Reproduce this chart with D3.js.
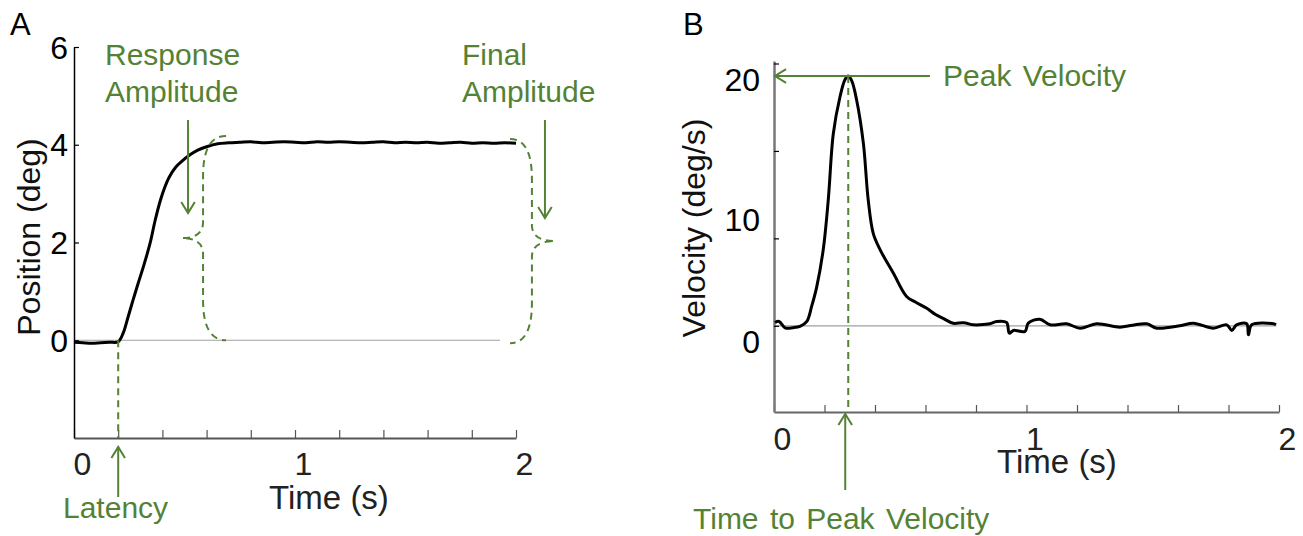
<!DOCTYPE html>
<html>
<head>
<meta charset="utf-8">
<script src="https://cdn.jsdelivr.net/npm/d3@7"></script>
<style>
body{margin:0;background:#fff}
svg text{font-family:"Liberation Sans",Arial,sans-serif}
</style>
</head>
<body>
<svg id="fig" width="1303" height="536"></svg>
<script>
// position trace (panel A)
var posTime = [0,0.04,0.08,0.12,0.16,0.2,0.222,0.245,0.267,0.29,0.313,0.344,0.367,0.39,0.41,0.43,0.46,0.49,0.52,0.56,0.6,0.65,0.7,0.75,0.8,0.85,0.9,0.95,1.0,1.05,1.1,1.15,1.2,1.25,1.3,1.35,1.4,1.45,1.5,1.55,1.6,1.65,1.7,1.75,1.8,1.85,1.9,1.95,2.0]
var posValue = [-0.04,-0.05,-0.06,-0.05,-0.04,-0.03,0.14,0.48,0.82,1.16,1.49,1.98,2.45,2.85,3.12,3.33,3.54,3.67,3.78,3.89,3.96,4.02,4.04,4.05,4.06,4.04,4.05,4.06,4.05,4.04,4.06,4.05,4.06,4.05,4.04,4.05,4.06,4.04,4.05,4.04,4.05,4.03,4.04,4.05,4.03,4.04,4.03,4.04,4.03]

// velocity trace (panel B)
var velTime = [0.004,0.02,0.044,0.075,0.103,0.13,0.149,0.169,0.195,0.215,0.235,0.261,0.281,0.294,0.308,0.327,0.354,0.373,0.393,0.42,0.473,0.525,0.56,0.605,0.64,0.67,0.71,0.75,0.79,0.816,0.855,0.882,0.921,0.932,0.948,0.994,1.007,1.053,1.093,1.159,1.212,1.278,1.37,1.42,1.476,1.516,1.608,1.661,1.74,1.793,1.813,1.832,1.872,1.879,1.892,1.978,1.988]
var velValue = [0.26,0.35,-0.16,-0.15,-0.05,0.35,1.55,3.1,6.1,10.1,15.4,18.3,19.7,20,19.6,18.1,14.6,10.1,7.4,6.1,4.2,2.35,1.9,1.4,0.9,0.6,0.2,0.25,0.08,0.08,0.16,0.35,0.27,-0.59,-0.37,-0.45,0.21,0.53,0.08,0.16,-0.19,0.16,-0.11,0.05,0.16,-0.19,0,0.21,-0.19,0.08,-0.37,0.08,0.16,-0.72,0.08,0.16,0.08]

var timeTicks = [0,0.2,0.4,0.6,0.8,1,1.2,1.4,1.6,1.8,2]
var timeLabels = [0,1,2]
var posTicks = [0,2,4,6]
var velTicks = [0,7,14,21]
var velLabelText = ["0","10","20"]
var velLabelValue = [-1.3,8.5,19.7]

var GREEN = "#548235"
var svg = d3.select("#fig")

var xA = d3.scaleLinear().domain([0,2]).range([74,516])
var yA = d3.scaleLinear().domain([-2,6]).range([438,47])
var xB = d3.scaleLinear().domain([0,2]).range([774,1279])
var yB = d3.scaleLinear().domain([-6.9,21.2]).range([412,61])

function arrow(g, x1, y1, x2, y2){
	var a = Math.atan2(y2-y1, x2-x1), L = 13, W = 0.55
	g.append("line").attr("x1",x1).attr("y1",y1).attr("x2",x2).attr("y2",y2)
		.attr("stroke",GREEN).attr("stroke-width",2)
	g.append("path")
		.attr("d","M"+(x2-L*Math.cos(a-W))+","+(y2-L*Math.sin(a-W))+"L"+x2+","+y2+"L"+(x2-L*Math.cos(a+W))+","+(y2-L*Math.sin(a+W)))
		.attr("fill","none").attr("stroke",GREEN).attr("stroke-width",2)
}

function brace(g, xEnd, xSpine, xTip, yTop, yBot){
	var yMid = (yTop+yBot)/2, h1 = 40, h2 = 16
	var d = "M"+xEnd+","+yTop+"Q"+xSpine+","+yTop+" "+xSpine+","+(yTop+h1)
		+"L"+xSpine+","+(yMid-h2)+"Q"+xSpine+","+yMid+" "+xTip+","+yMid
		+"Q"+xSpine+","+yMid+" "+xSpine+","+(yMid+h2)
		+"L"+xSpine+","+(yBot-h1)+"Q"+xSpine+","+yBot+" "+xEnd+","+yBot
	g.append("path").attr("d",d).attr("fill","none").attr("stroke",GREEN)
		.attr("stroke-width",2).attr("stroke-dasharray","7,5")
}

function greenText(x, y, txt){
	svg.append("text").attr("x",x).attr("y",y).attr("fill",GREEN)
		.attr("font-size",30).attr("word-spacing",3).text(txt)
}

// ---------- panel A ----------
var gA = svg.append("g")

gA.append("line").attr("x1",xA(0)).attr("x2",xA(1.928)).attr("y1",yA(0)).attr("y2",yA(0))
	.attr("stroke","#a0a0a0").attr("stroke-width",1.2)

var axA = gA.append("g").attr("transform","translate(0,"+yA(-2)+")")
	.call(d3.axisBottom(xA).tickValues(timeTicks).tickSize(-8).tickSizeOuter(0)
		.tickFormat(function(d){ return timeLabels.indexOf(d) >= 0 ? d3.format("d")(d) : "" }))
axA.select(".domain").attr("stroke","#555").attr("stroke-width",2)
axA.selectAll(".tick line").attr("stroke","#555").attr("stroke-width",1.2)
axA.selectAll("text").attr("font-size",32).attr("fill","#222").attr("x",8).attr("y",26)
	.attr("dy",null).attr("dominant-baseline","central")

var ayA = gA.append("g").attr("transform","translate("+xA(0)+",0)")
	.call(d3.axisLeft(yA).tickValues(posTicks).tickSize(-5).tickSizeOuter(0).tickPadding(6))
ayA.select(".domain").attr("stroke","#000").attr("stroke-width",1.5)
ayA.selectAll(".tick line").attr("stroke","#000").attr("stroke-width",1.2)
ayA.selectAll("text").attr("font-size",32).attr("fill","#000").attr("dy",null)
	.attr("dominant-baseline","central")

gA.append("path")
	.datum(d3.range(posTime.length))
	.attr("d", d3.line().x(function(i){ return xA(posTime[i]) }).y(function(i){ return yA(posValue[i]) })
		.curve(d3.curveCatmullRom.alpha(0.5)))
	.attr("fill","none").attr("stroke","#000").attr("stroke-width",3)

svg.append("text").attr("x",10).attr("y",35).attr("font-size",31).text("A")
svg.append("text").attr("transform","translate(40,237) rotate(-90)").attr("text-anchor","middle")
	.attr("font-size",32).attr("fill","#111").text("Position (deg)")
svg.append("text").attr("x",329).attr("y",509).attr("text-anchor","middle")
	.attr("font-size",33).attr("fill","#222").text("Time (s)")

// latency
gA.append("line").attr("x1",xA(0.2)).attr("x2",xA(0.2)).attr("y1",yA(0)).attr("y2",yA(-2))
	.attr("stroke",GREEN).attr("stroke-width",2).attr("stroke-dasharray","7,5")
arrow(gA, xA(0.2), 497, xA(0.2), 447)
greenText(63, 518, "Latency")

// response amplitude
brace(gA, xA(0.688), xA(0.584), xA(0.488), yA(4.18), yA(0))
arrow(gA, xA(0.516), 120, xA(0.516), 213)
greenText(105, 65, "Response")
greenText(105, 102, "Amplitude")

// final amplitude
brace(gA, xA(1.973), xA(2.072), xA(2.176), yA(4.12), yA(-0.06))
arrow(gA, xA(2.131), 120, xA(2.131), 218)
greenText(462, 65, "Final")
greenText(462, 102, "Amplitude")

// ---------- panel B ----------
var gB = svg.append("g")

gB.append("line").attr("x1",xB(0)).attr("x2",xB(1.99)).attr("y1",yB(0)).attr("y2",yB(0))
	.attr("stroke","#a0a0a0").attr("stroke-width",1.2)

var axB = gB.append("g").attr("transform","translate(0,"+yB(-6.9)+")")
	.call(d3.axisBottom(xB).tickValues(timeTicks).tickSize(-7).tickSizeOuter(0)
		.tickFormat(function(d){ return timeLabels.indexOf(d) >= 0 ? d3.format("d")(d) : "" }))
axB.select(".domain").attr("stroke","#666").attr("stroke-width",2)
axB.selectAll(".tick line").attr("stroke","#555").attr("stroke-width",1.2)
axB.selectAll("text").attr("font-size",32).attr("fill","#222").attr("x",8).attr("y",27)
	.attr("dy",null).attr("dominant-baseline","central")

var ayB = gB.append("g").attr("transform","translate("+xB(0)+",0)")
	.call(d3.axisLeft(yB).tickValues(velTicks).tickSize(-5).tickSizeOuter(0).tickFormat(""))
ayB.select(".domain").attr("stroke","#777").attr("stroke-width",2.5)
ayB.selectAll(".tick line").attr("stroke","#000").attr("stroke-width",1.2)

gB.selectAll(".vlab").data(velLabelText).enter().append("text")
	.attr("class","vlab")
	.attr("x", xB(0) - 14)
	.attr("y", function(d, i){ return yB(velLabelValue[i]) })
	.attr("text-anchor","end").attr("dominant-baseline","central")
	.attr("font-size",32).attr("fill","#000")
	.text(function(d){ return d })

gB.append("path")
	.datum(d3.range(velTime.length))
	.attr("d", d3.line().x(function(i){ return xB(velTime[i]) }).y(function(i){ return yB(velValue[i]) })
		.curve(d3.curveCatmullRom.alpha(0.5)))
	.attr("fill","none").attr("stroke","#000").attr("stroke-width",3)

svg.append("text").attr("x",683).attr("y",35).attr("font-size",31).text("B")
svg.append("text").attr("transform","translate(705,228) rotate(-90)").attr("text-anchor","middle")
	.attr("font-size",32).attr("fill","#111").text("Velocity (deg/s)")
svg.append("text").attr("x",1057).attr("y",473).attr("text-anchor","middle")
	.attr("font-size",33).attr("fill","#222").text("Time (s)")

// peak velocity
var peakT = 0.294, peakV = 20
arrow(gB, 930, yB(peakV), xB(0) + 1, yB(peakV))
greenText(943, 86, "Peak Velocity")
gB.append("line").attr("x1",xB(peakT)).attr("x2",xB(peakT)).attr("y1",yB(peakV)).attr("y2",yB(-6.9))
	.attr("stroke",GREEN).attr("stroke-width",2).attr("stroke-dasharray","7,5")
arrow(gB, xB(peakT) - 3, 490, xB(peakT) - 3, 414)
greenText(693, 529, "Time to Peak Velocity")
</script>
</body>
</html>
